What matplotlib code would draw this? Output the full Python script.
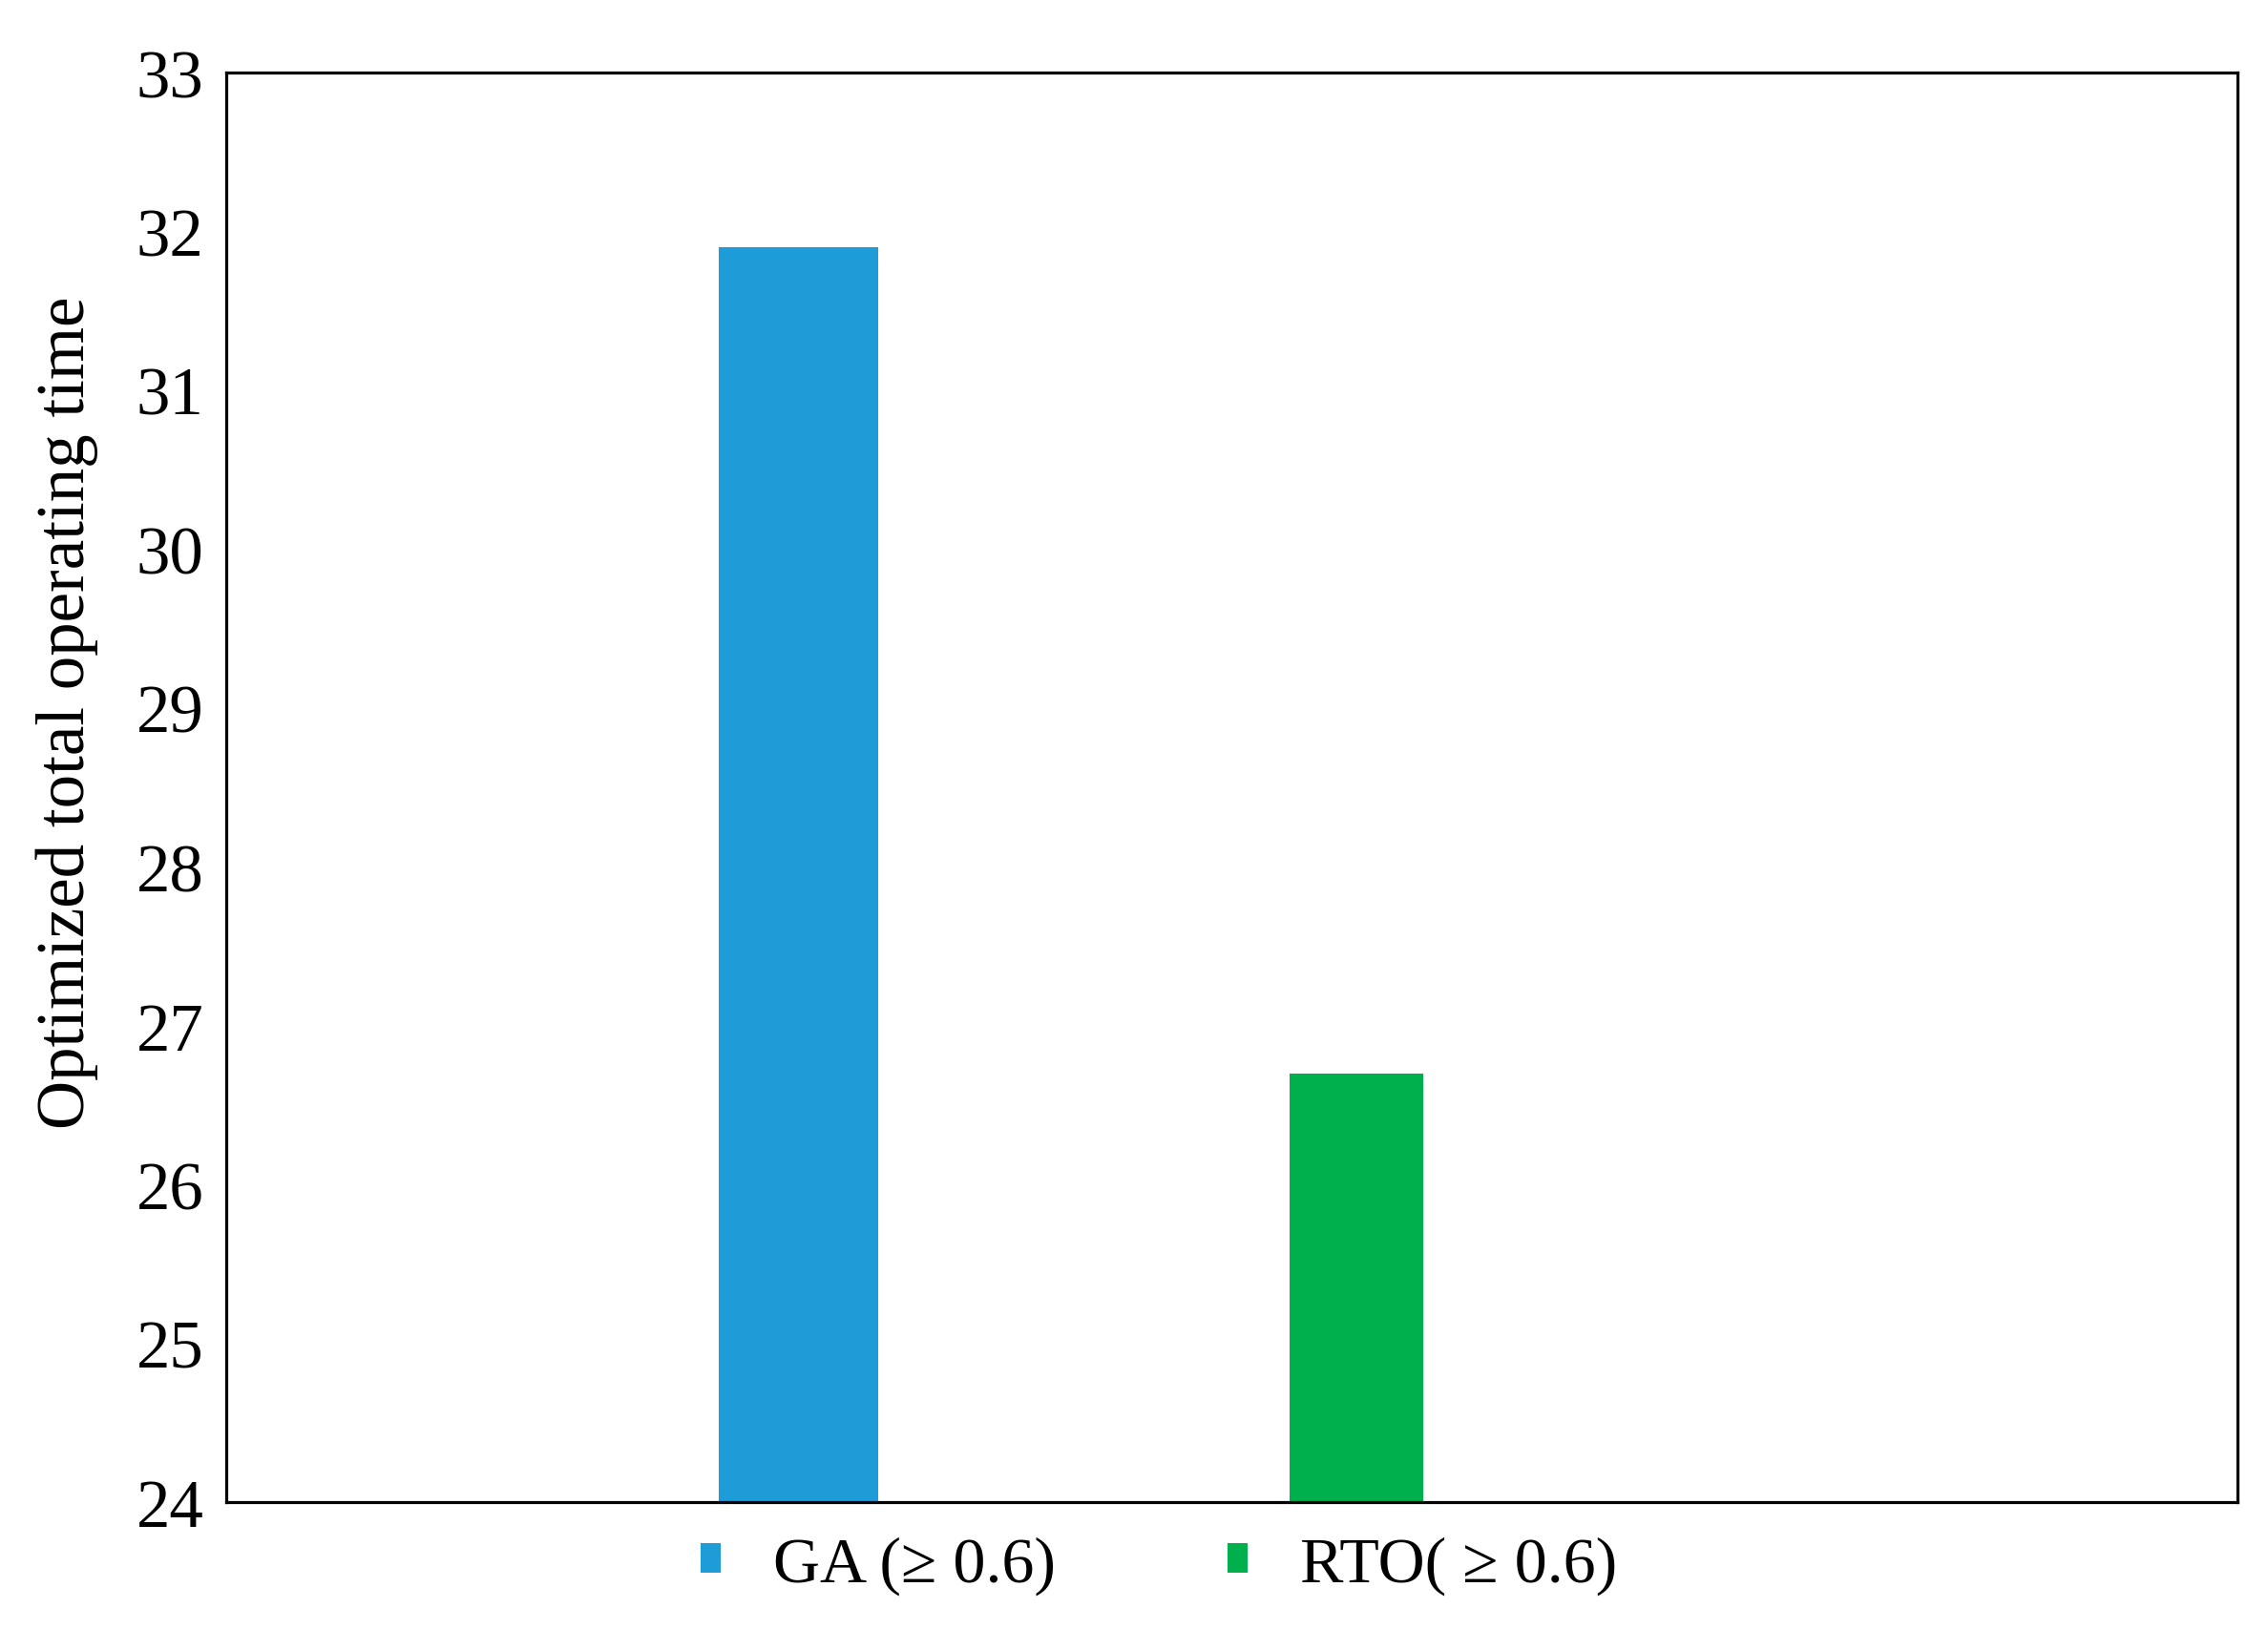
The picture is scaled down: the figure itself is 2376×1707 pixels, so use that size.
import matplotlib.pyplot as plt
import numpy as np

# data
methods = ["GA (\u2265 0.6)", "RTO( \u2265 0.6)"]
total_time = [31.9, 26.7]
bar_colors = ["#1E9CD8", "#00B04C"]
bar_widths = [0.286, 0.239]
y_ticks = np.arange(24, 34, 1)

plt.rcParams['font.family'] = ['Liberation Serif', 'DejaVu Serif']

fig = plt.figure(figsize=(23.76, 17.08), dpi=100)
ax = fig.add_axes([0.0997, 0.0779, 0.8868, 0.877])

x = np.arange(len(methods))
for i in range(len(methods)):
    ax.bar(x[i], total_time[i] - 24, bottom=24, width=bar_widths[i],
           color=bar_colors[i], label=methods[i], zorder=1)

ax.set_xlim(-1.025, 2.579)
ax.set_ylim(24, 33)
ax.set_yticks(y_ticks)
ax.set_xticks([])
ax.tick_params(axis='y', length=0, pad=17, labelsize=51)

for s in ax.spines.values():
    s.set_linewidth(2.3)
    s.set_zorder(3)

ax.set_ylabel("Optimized total operating time", fontsize=51)
ax.yaxis.set_label_coords(-0.0635, 0.553)

ax.legend(loc='center left', bbox_to_anchor=(0.236, -0.0445), ncol=2,
          frameon=False, fontsize=49, handlelength=0.31, handleheight=0.31,
          handletextpad=0.8, columnspacing=2.65, borderpad=0, borderaxespad=0)

fig.savefig("out.png", dpi=100)
